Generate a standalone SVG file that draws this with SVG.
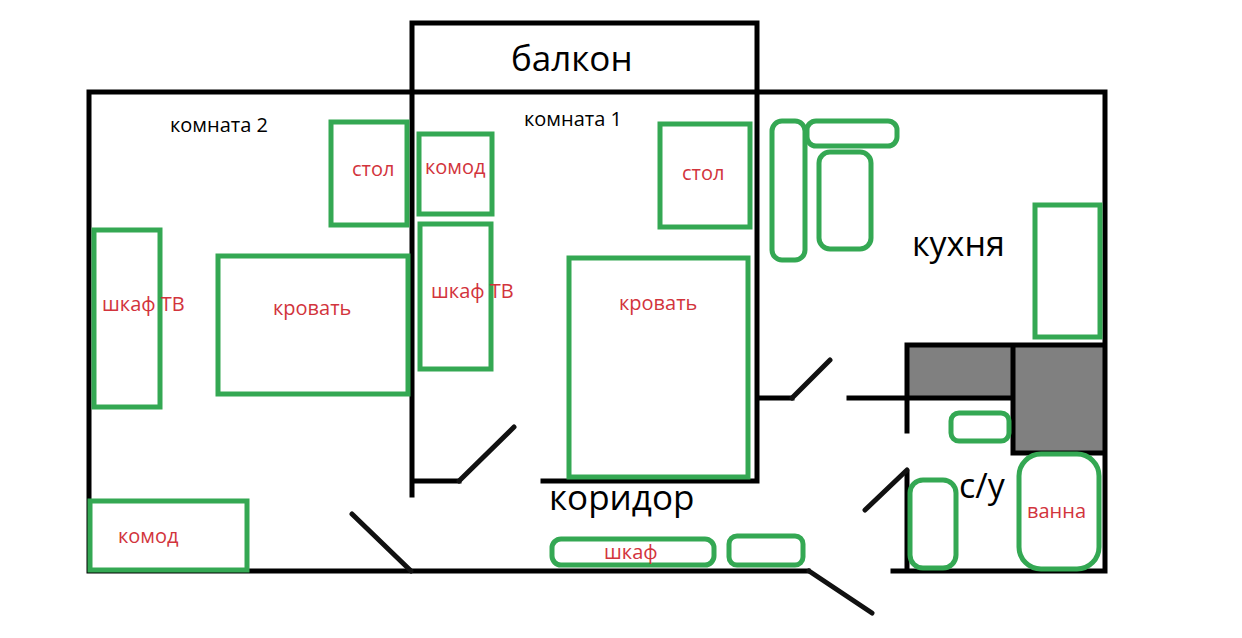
<svg xmlns="http://www.w3.org/2000/svg" width="1242" height="638" viewBox="0 0 1242 638">
<style>
.w{fill:none;stroke:#000;stroke-width:5;stroke-linecap:square}
.d{fill:none;stroke:#111;stroke-width:5;stroke-linecap:round;stroke-linejoin:round}
.f{fill:none;stroke:#34a853;stroke-width:5}
.l{fill:#d2343c;font:20px "Open Sans","Liberation Sans",sans-serif}
.b{fill:#000;font:20px "Open Sans","Liberation Sans",sans-serif}
.k{fill:#000;font:35px "Open Sans","Liberation Sans",sans-serif}
</style>
<rect width="1242" height="638" fill="#fff"/>
<g id="shafts"><rect x="907" y="345" width="198" height="53" fill="#808080"/><rect x="1013" y="345" width="92" height="108" fill="#808080"/></g>
<g id="connectors">
<path class="w" d="M412 92V23H757V92M89 92H1105V571H893M89 92V571H808M757 23V481M412 92V495M412 481H459M543 481H757M759 398H792M849 398H1012M907 345H1105M907 345V431M1013 345V453H1105M907 473V571"/>
<path class="d" d="M459 481L514 427M792 398L830 360M865 510L907 470M352 514L411 571M809 571L872 613"/>
</g>
<g id="balcony"><text class="k" x="511" y="71">балкон</text></g>
<g id="room2"><text class="b" x="170" y="132">комната 2</text></g>
<g id="room1"><text class="b" x="524" y="126">комната 1</text></g>
<g id="table2"><rect class="f" x="331" y="122" width="76" height="103"/><text class="l" x="352" y="176">стол</text></g>
<g id="dresser1"><rect class="f" x="419" y="134" width="73" height="80"/><text class="l" x="425" y="174">комод</text></g>
<g id="table1"><rect class="f" x="660" y="124" width="90" height="103"/><text class="l" x="682" y="180">стол</text></g>
<g id="wardrobe2"><rect class="f" x="94" y="230" width="66" height="177"/><text class="l" x="102" y="311">шкаф ТВ</text></g>
<g id="bed2"><rect class="f" x="218" y="256" width="190" height="138"/><text class="l" x="273" y="315">кровать</text></g>
<g id="wardrobe1"><rect class="f" x="420" y="224" width="71" height="145"/><text class="l" x="431" y="298">шкаф ТВ</text></g>
<g id="bed1"><rect class="f" x="569" y="258" width="179" height="219"/><text class="l" x="619" y="310">кровать</text></g>
<g id="dresser2"><rect class="f" x="90" y="501" width="157" height="69"/><text class="l" x="118" y="543">комод</text></g>
<g id="kitchen-sofa"><rect class="f" x="772" y="121" width="33" height="139" rx="10"/></g>
<g id="kitchen-top"><rect class="f" x="807" y="121" width="90" height="25" rx="9"/></g>
<g id="kitchen-table"><rect class="f" x="819" y="152" width="52" height="97" rx="11"/></g>
<g id="kitchen"><text class="k" x="912" y="256" style="font-size:34px">кухня</text></g>
<g id="fridge"><rect class="f" x="1035" y="205" width="65" height="132"/></g>
<g id="corridor"><text class="k" x="549" y="510">коридор</text></g>
<g id="wardrobe3"><rect class="f" x="552" y="539" width="162" height="26" rx="9"/><text class="l" x="604" y="559">шкаф</text></g>
<g id="shoe-rack"><rect class="f" x="729" y="536" width="74" height="29" rx="8"/></g>
<g id="sink"><rect class="f" x="951" y="413" width="58" height="28" rx="8"/></g>
<g id="toilet"><rect class="f" x="910" y="480" width="46" height="88" rx="13"/></g>
<g id="bathroom"><text class="k" x="959" y="498" style="font-size:34px">с/у</text></g>
<g id="bath"><rect class="f" x="1019" y="454" width="80" height="115" rx="22"/><text class="l" x="1027" y="518">ванна</text></g>
</svg>
